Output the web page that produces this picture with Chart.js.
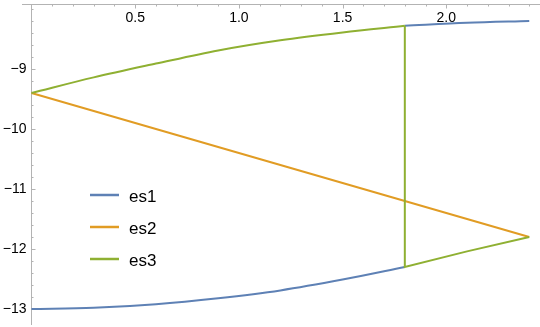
<!DOCTYPE html>
<html>
<head>
<meta charset="utf-8">
<script src="https://cdn.jsdelivr.net/npm/chart.js@4.4.1/dist/chart.umd.min.js"></script>
<style>
  html, body { margin: 0; padding: 0; background: #ffffff; }
  #wrap { width: 540px; height: 327px; }
</style>
</head>
<body>
<div id="wrap"><canvas id="c" width="540" height="327"></canvas></div>
<script>
// ---- data ----
const seriesNames = ["es1", "es2", "es3"];
const seriesColors = ["#5E81B5", "#E19C24", "#8FB032"];

const xLow  = [0, 0.3, 0.6, 0.9, 1.2, 1.5, 1.8];
const xHigh = [1.8, 2.1, 2.4];

const es1Low  = [-13.0, -12.98, -12.92, -12.82, -12.69, -12.51, -12.3];
const es1High = [-8.28, -8.23, -8.2];

const es2Low  = [-9.4, -9.7, -10.0, -10.3, -10.6, -10.9, -11.2];
const es2High = [-11.2, -11.5, -11.8];

const es3Low  = [-9.4, -9.14, -8.91, -8.69, -8.52, -8.39, -8.28];
const es3High = [-12.3, -12.04, -11.8];

const xMajorTicks = [0.5, 1.0, 1.5, 2.0];
const yMajorTicks = [-9, -10, -11, -12, -13];

const xRange = [-0.0458, 2.4518];
const yRange = [-13.2667, -7.9167];

// ---- build datasets ----
function pts(xs, ys) { return xs.map((x, i) => ({ x: x, y: ys[i] })); }

const es1Data = pts(xLow, es1Low).concat([{ x: 1.8, y: null }]).concat(pts(xHigh, es1High));
const es2Data = pts(xLow, es2Low).concat(pts(xHigh.slice(1), es2High.slice(1)));
const es3UpperData = pts(xLow, es3Low);
// vertical jump at the branch point, then the lower branch
const es3LowerData = [{ x: xLow[xLow.length - 1], y: es3Low[es3Low.length - 1] }].concat(pts(xHigh, es3High));

const AXIS_COLOR = "#b3b3b3";
const LABEL_FONT = '14px "Liberation Sans", Arial, sans-serif';
const LEGEND_FONT = '17px "Liberation Sans", Arial, sans-serif';

function fmtX(v) { return v.toFixed(1); }
function fmtY(v) { return (v < 0 ? "\u2212" : "") + Math.abs(v).toString(); }

const axesPlugin = {
  id: "mmaAxes",
  beforeDatasetsDraw(chart) {
    const ctx = chart.ctx;
    const xs = chart.scales.x, ys = chart.scales.y;
    const area = chart.chartArea;
    const x0 = Math.round(xs.getPixelForValue(0)) + 0.5;
    const yTop = Math.round(area.top) + 0.5;
    ctx.save();
    ctx.strokeStyle = AXIS_COLOR;
    ctx.lineWidth = 1;
    ctx.beginPath();
    ctx.moveTo(area.left, yTop);
    ctx.lineTo(area.right, yTop);
    ctx.stroke();
    ctx.beginPath();
    ctx.moveTo(x0, area.top);
    ctx.lineTo(x0, area.bottom);
    ctx.stroke();
    for (let k = 0; k <= 24; k++) {
      const v = k / 10;
      const px = Math.round(xs.getPixelForValue(v)) + 0.5;
      const major = xMajorTicks.some(t => Math.abs(t - v) < 1e-9);
      ctx.beginPath();
      ctx.moveTo(px, yTop);
      ctx.lineTo(px, yTop + (major ? 4 : 2));
      ctx.stroke();
    }
    for (let k = -65; k <= -40; k++) {
      const v = k / 5;
      if (v < yRange[0] || v > yRange[1]) continue;
      const py = Math.round(ys.getPixelForValue(v)) + 0.5;
      const major = yMajorTicks.some(t => Math.abs(t - v) < 1e-9);
      ctx.beginPath();
      ctx.moveTo(x0, py);
      ctx.lineTo(x0 + (major ? 4 : 2), py);
      ctx.stroke();
    }
    ctx.restore();
  },
  afterDraw(chart) {
    const ctx = chart.ctx;
    const xs = chart.scales.x, ys = chart.scales.y;
    const area = chart.chartArea;
    const x0 = xs.getPixelForValue(0);
    ctx.save();
    ctx.fillStyle = "#000000";
    ctx.font = LABEL_FONT;
    ctx.textAlign = "center";
    ctx.textBaseline = "middle";
    xMajorTicks.forEach(v => {
      ctx.fillText(fmtX(v), xs.getPixelForValue(v), area.top + 14.5);
    });
    ctx.textAlign = "right";
    yMajorTicks.forEach(v => {
      ctx.fillText(fmtY(v), x0 - 5, ys.getPixelForValue(v) + 0.5);
    });
    // legend
    ctx.font = LEGEND_FONT;
    ctx.textAlign = "left";
    ctx.textBaseline = "alphabetic";
    const ds = chart.data.datasets.filter(d => !d.noLegend);
    for (let i = 0; i < ds.length; i++) {
      const ly = 195 + i * 32;
      ctx.strokeStyle = ds[i].borderColor;
      ctx.lineWidth = 2.5;
      ctx.beginPath();
      ctx.moveTo(90, ly);
      ctx.lineTo(119, ly);
      ctx.stroke();
      ctx.fillStyle = "#000000";
      ctx.fillText(ds[i].label, 129, ly + 7.3);
    }
    ctx.restore();
  }
};

function makeDs(label, data, color, order, mode, extra) {
  return Object.assign({
    label: label,
    data: data,
    borderColor: color,
    backgroundColor: color,
    borderWidth: 2,
    pointRadius: 0,
    tension: mode ? 0.4 : 0,
    cubicInterpolationMode: mode || "default",
    spanGaps: false,
    fill: false,
    order: order
  }, extra || {});
}

new Chart(document.getElementById("c"), {
  type: "line",
  data: {
    datasets: [
      makeDs(seriesNames[0], es1Data, seriesColors[0], 3, "monotone"),
      makeDs(seriesNames[1], es2Data, seriesColors[1], 2, null),
      makeDs(seriesNames[2], es3UpperData, seriesColors[2], 1, "monotone"),
      makeDs(seriesNames[2], es3LowerData, seriesColors[2], 1, null, { noLegend: true })
    ]
  },
  options: {
    responsive: false,
    devicePixelRatio: 1,
    animation: false,
    layout: { padding: { left: 22, right: 0, top: 4, bottom: 2 } },
    plugins: { legend: { display: false }, tooltip: { enabled: false } },
    scales: {
      x: { type: "linear", min: xRange[0], max: xRange[1], display: false },
      y: { type: "linear", min: yRange[0], max: yRange[1], display: false }
    }
  },
  plugins: [axesPlugin]
});
</script>
</body>
</html>
